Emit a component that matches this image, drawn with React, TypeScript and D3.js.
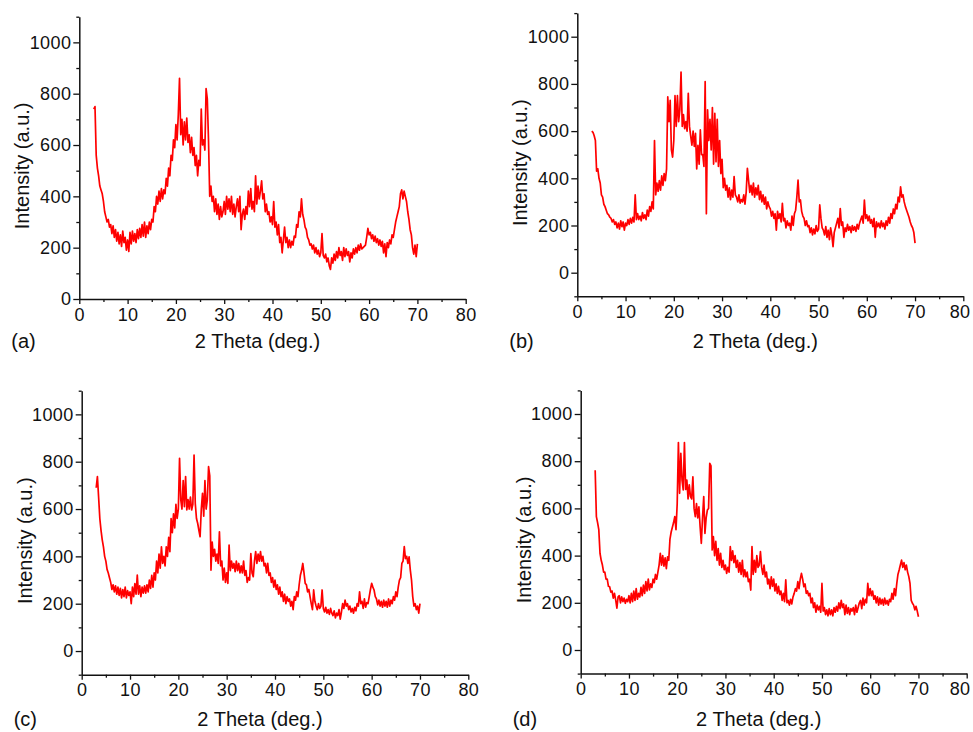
import React, { useEffect, useRef } from "react";
import * as d3 from "d3";

// XRD patterns, intensity sampled every 0.25 deg from 3 to 70 deg (2 theta)
const THETA_START = 3;
const THETA_STEP = 0.25;

const intensityA = [
  740, 750, 560, 510, 480, 440, 425, 410, 380, 340, 320, 300, 310, 280, 290, 255, 285, 240, 270, 225,
  260, 215, 250, 205, 265, 220, 240, 190, 230, 185, 260, 215, 265, 225, 255, 220, 270, 235, 275, 240,
  290, 245, 300, 240, 285, 255, 300, 270, 310, 300, 360, 340, 400, 370, 420, 380, 430, 390, 425, 410,
  470, 440, 510, 480, 560, 540, 620, 590, 680, 620, 720, 860, 640, 700, 600, 690, 620, 705, 610, 640,
  570, 630, 560, 590, 520, 560, 480, 540, 520, 740, 600, 620, 580, 820, 780, 620, 400, 440, 380, 400,
  340, 390, 330, 370, 310, 360, 320, 340, 380, 330, 400, 350, 390, 340, 400, 330, 370, 320, 360, 390,
  340, 400, 270, 330, 350, 310, 360, 330, 420, 360, 430, 350, 380, 340, 480, 370, 440, 390, 420, 460,
  390, 410, 340, 370, 330, 340, 300, 320, 290, 380, 280, 300, 250, 290, 220, 240, 180, 230, 280, 220,
  240, 200, 230, 200, 225, 210, 245, 240, 290, 280, 340, 320, 390, 330, 310, 280, 270, 240, 230, 210,
  215, 195, 210, 180, 200, 175, 190, 165, 180, 255, 170, 160, 175, 145, 160, 130, 115, 160, 140, 175,
  150, 185, 160, 200, 170, 185, 150, 200, 165, 195, 170, 185, 145, 180, 160, 195, 175, 200, 180, 210,
  190, 215, 195, 200, 205, 210, 240, 275, 250, 260, 235, 250, 225, 245, 220, 235, 210, 230, 205, 225,
  180, 215, 165, 220, 200, 230, 215, 250, 240, 270, 300, 320, 340, 360, 410, 425, 390, 420, 400, 380,
  340, 310, 270, 250, 200, 175, 210, 165, 215,
];

const intensityB = [
  600, 595, 580, 560, 430, 440, 400, 380, 330, 320, 290, 280, 265, 250, 245, 235, 230, 215, 225, 205,
  215, 190, 210, 185, 220, 195, 215, 180, 210, 200, 225, 205, 230, 210, 235, 215, 330, 225, 250, 225,
  240, 220, 255, 230, 245, 225, 265, 240, 280, 260, 300, 270, 560, 330, 380, 345, 390, 350, 410, 370,
  420, 390, 440, 745, 640, 730, 520, 490, 560, 750, 620, 750, 640, 690, 850, 620, 670, 610, 640, 600,
  760, 620, 580, 540, 600, 535, 590, 440, 540, 460, 605, 500, 500, 450, 810, 250, 690, 560, 650, 520,
  700, 460, 675, 470, 650, 450, 560, 420, 480, 360, 400, 350, 370, 320, 360, 310, 350, 320, 407, 330,
  320, 300, 330, 295, 310, 300, 330, 290, 340, 442, 390, 340, 370, 330, 380, 320, 360, 330, 370, 310,
  345, 300, 330, 290, 320, 270, 300, 280, 270, 240, 260, 230, 250, 180, 260, 230, 250, 215, 294, 220,
  230, 190, 220, 200, 210, 180, 240, 200, 250, 265, 320, 392, 300, 308, 260, 240, 230, 200, 220, 195,
  200, 170, 190, 160, 185, 165, 200, 175, 185, 287, 230, 190, 180, 160, 195, 150, 180, 140, 190, 160,
  110, 170, 190, 210, 230, 190, 272, 200, 215, 150, 190, 175, 205, 180, 195, 170, 200, 180, 195, 175,
  205, 185, 210, 225, 240, 210, 308, 230, 245, 220, 240, 210, 225, 195, 230, 150, 215, 195, 210, 190,
  220, 195, 210, 185, 220, 200, 235, 210, 250, 230, 270, 250, 290, 270, 320, 300, 364, 320, 330, 300,
  280, 265, 250, 235, 215, 200, 190, 170, 125,
];

const intensityC = [
  690, 737, 650, 560, 510, 470, 440, 400, 380, 345, 330, 310, 290, 260, 280, 250, 275, 240, 270, 235,
  265, 225, 260, 230, 270, 225, 255, 235, 250, 200, 270, 230, 285, 240, 321, 240, 275, 230, 270, 245,
  275, 245, 280, 250, 300, 265, 320, 270, 330, 300, 380, 330, 410, 350, 440, 370, 400, 360, 440, 400,
  480, 420, 560, 500, 580, 520, 620, 560, 600, 814, 640, 600, 720, 610, 737, 596, 640, 600, 650, 596,
  620, 828, 624, 560, 540, 510, 483, 600, 666, 570, 720, 600, 640, 779, 740, 342, 460, 400, 430, 380,
  410, 370, 504, 360, 380, 300, 350, 290, 330, 286, 448, 340, 380, 350, 370, 335, 380, 340, 370, 330,
  360, 330, 380, 320, 340, 290, 310, 300, 412, 330, 314, 380, 420, 370, 410, 380, 420, 380, 400, 360,
  370, 330, 370, 320, 330, 290, 310, 270, 300, 260, 280, 240, 270, 230, 250, 210, 240, 200, 230, 210,
  220, 190, 210, 175, 230, 215, 250, 230, 280, 320, 340, 370, 330, 286, 280, 250, 260, 230, 200, 175,
  258, 210, 190, 175, 200, 180, 190, 258, 180, 165, 185, 160, 175, 155, 180, 160, 150, 170, 140, 160,
  150, 175, 135, 165, 200, 180, 215, 190, 200, 175, 190, 165, 180, 160, 185, 170, 200, 190, 250, 200,
  210, 180, 220, 185, 205, 200, 230, 260, 286, 270, 258, 230, 220, 195, 215, 190, 210, 185, 215, 190,
  210, 185, 220, 190, 215, 200, 230, 215, 250, 230, 270, 300, 310, 370, 380, 441, 390, 400, 370, 398,
  342, 300, 230, 190, 200, 175, 190, 160, 200,
];

const intensityD = [
  762, 565, 540, 510, 410, 380, 360, 330, 330, 300, 300, 270, 268, 245, 250, 220, 240, 212, 177, 225,
  230, 200, 225, 205, 220, 198, 215, 205, 230, 200, 240, 205, 250, 210, 260, 215, 240, 225, 265, 230,
  275, 240, 290, 250, 300, 255, 280, 265, 300, 285, 320, 300, 330, 360, 410, 360, 400, 355, 390, 345,
  395, 380, 470, 500, 520, 540, 565, 510, 620, 879, 664, 833, 720, 678, 879, 680, 720, 640, 700, 650,
  640, 734, 600, 565, 620, 560, 607, 522, 452, 560, 650, 494, 560, 593, 600, 791, 780, 424, 480, 400,
  460, 380, 430, 360, 410, 350, 380, 340, 360, 325, 350, 330, 438, 380, 420, 370, 400, 350, 380, 330,
  370, 320, 380, 311, 340, 310, 330, 290, 300, 254, 438, 320, 380, 330, 400, 350, 360, 417, 350, 320,
  360, 310, 330, 280, 300, 260, 310, 270, 300, 250, 280, 240, 270, 235, 250, 210, 240, 205, 297, 200,
  210, 190, 215, 195, 225, 240, 260, 250, 290, 260, 300, 325, 300, 268, 280, 240, 250, 230, 240, 200,
  220, 180, 200, 160, 190, 170, 185, 160, 282, 165, 180, 150, 170, 145, 175, 150, 170, 145, 180, 160,
  185, 165, 200, 175, 210, 180, 195, 150, 190, 155, 180, 150, 175, 165, 180, 150, 190, 160, 180, 200,
  210, 175, 220, 190, 215, 200, 282, 230, 260, 230, 250, 215, 230, 200, 225, 190, 220, 195, 215, 190,
  220, 195, 210, 190, 215, 205, 240, 215, 260, 230, 280, 320, 339, 360, 381, 350, 370, 340, 360, 330,
  311, 282, 210, 198, 190, 170, 185, 165, 141,
];

const xTicks = [0, 10, 20, 30, 40, 50, 60, 70, 80];
const xMinorTicks = [5, 15, 25, 35, 45, 55, 65, 75];
const yTicks = [0, 200, 400, 600, 800, 1000];
const yMinorTicks = [-100, 100, 300, 500, 700, 900, 1100];

const panels = [
  { label: "(a)", data: intensityA, yMin: 0, left: 79.3, right: 465.7, top: 16.7, bottom: 299, titleY: 348 },
  { label: "(b)", data: intensityB, yMin: -100, left: 577.3, right: 963.3, top: 13.1, bottom: 296.3, titleY: 348 },
  { label: "(c)", data: intensityC, yMin: -100, left: 81.7, right: 468.3, top: 390.7, bottom: 674.7, titleY: 726 },
  { label: "(d)", data: intensityD, yMin: -100, left: 580.7, right: 966.7, top: 390.4, bottom: 673.6, titleY: 726 },
];

const FONT = "'Liberation Sans', Arial, Helvetica, sans-serif";

export default function App() {
  const svgRef = useRef<SVGSVGElement | null>(null);

  useEffect(() => {
    const svg = d3.select(svgRef.current);
    svg.selectAll("*").remove();

    panels.forEach((p) => {
      const x = d3.scaleLinear().domain([0, 80]).range([p.left, p.right]);
      const y = d3.scaleLinear().domain([p.yMin, 1100]).range([p.bottom, p.top]);
      const g = svg.append("g");

      // trace
      const line = d3
        .line<number>()
        .x((_, i) => x(THETA_START + i * THETA_STEP))
        .y((v) => y(v));
      g.append("path")
        .datum(p.data)
        .attr("d", line)
        .attr("fill", "none")
        .attr("stroke", "#ff0000")
        .attr("stroke-width", 1.7)
        .attr("stroke-linejoin", "round");

      // x axis
      const xAxis = g.append("g").attr("transform", `translate(0,${p.bottom})`);
      xAxis.call(
        d3.axisBottom(x).tickValues(xTicks).tickSize(5).tickSizeOuter(0).tickPadding(4).tickFormat(d3.format("d"))
      );
      // right-hand panels: keep the "80" label inside the page
      if (p.right > 900) {
        xAxis
          .selectAll<SVGTextElement, number>(".tick text")
          .filter((d) => d === 80)
          .attr("text-anchor", "end")
          .attr("dx", 970 - p.right);
      }
      xAxis
        .append("g")
        .call(d3.axisBottom(x).tickValues(xMinorTicks).tickSize(3).tickFormat(() => ""))
        .select(".domain")
        .remove();

      // y axis
      const yAxis = g.append("g").attr("transform", `translate(${p.left},0)`);
      yAxis.call(
        d3.axisLeft(y).tickValues(yTicks).tickSize(6).tickSizeOuter(0).tickPadding(2).tickFormat(d3.format("d"))
      );
      yAxis
        .append("g")
        .call(
          d3
            .axisLeft(y)
            .tickValues(yMinorTicks.filter((t) => t >= p.yMin))
            .tickSize(3)
            .tickFormat(() => "")
        )
        .select(".domain")
        .remove();

      g.selectAll(".domain").attr("stroke", "#111").attr("stroke-width", 1.5);
      g.selectAll(".tick line").attr("stroke", "#111").attr("stroke-width", 1.3);
      g.selectAll(".tick text")
        .attr("fill", "#111")
        .style("font-family", FONT)
        .style("font-size", "18px")
        .style("letter-spacing", "0.4px");

      // axis titles
      g.append("text")
        .attr("x", (p.left + p.right) / 2 - 15)
        .attr("y", p.titleY)
        .attr("text-anchor", "middle")
        .style("font-family", FONT)
        .style("font-size", "20px")
        .attr("fill", "#111")
        .text("2 Theta (deg.)");

      g.append("text")
        .attr("transform", `translate(${p.left - 50},${(p.top + p.bottom) / 2 + 8}) rotate(-90)`)
        .attr("text-anchor", "middle")
        .style("font-family", FONT)
        .style("font-size", "20px")
        .attr("fill", "#111")
        .text("Intensity (a.u.)");

      g.append("text")
        .attr("x", p.left - 68)
        .attr("y", p.titleY)
        .style("font-family", FONT)
        .style("font-size", "20px")
        .attr("fill", "#111")
        .text(p.label);
    });
  }, []);

  return (
    <svg
      ref={svgRef}
      width={973}
      height={732}
      style={{ position: "absolute", left: 0, top: 0, background: "#fff" }}
    />
  );
}
